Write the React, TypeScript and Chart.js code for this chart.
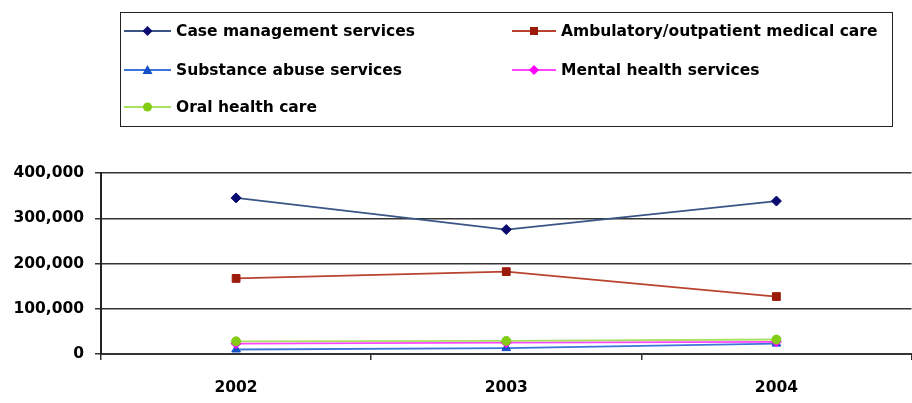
import React, { useEffect, useRef } from "react";
import { Chart, registerables } from "chart.js";

Chart.register(...registerables);

const categories = ["2002", "2003", "2004"];
const caseManagement = [345000, 275000, 338000];
const ambulatoryCare = [167000, 182000, 127000];
const substanceAbuse = [10000, 13000, 23000];
const mentalHealth = [23000, 25000, 27000];
const oralHealth = [28000, 29000, 32000];
const seriesNames = [
  "Case management services",
  "Ambulatory/outpatient medical care",
  "Substance abuse services",
  "Mental health services",
  "Oral health care",
];
const yMin = 0;
const yMax = 400000;
const yStep = 100000;

const FONT = "'DejaVu Sans', Verdana, sans-serif";

const seriesStyles = [
  { line: "#3a5585", marker: "#0a0a70", shape: "rectRot", radius: 5 },
  { line: "#b8432e", marker: "#9c1a0a", shape: "rect", radius: 5.5 },
  { line: "#3d74d8", marker: "#1450c8", shape: "triangle", radius: 5 },
  { line: "#ff44ff", marker: "#ff00ff", shape: "rectRot", radius: 5 },
  { line: "#a8e060", marker: "#84cc16", shape: "circle", radius: 4.5 },
];
const seriesData = [caseManagement, ambulatoryCare, substanceAbuse, mentalHealth, oralHealth];

function Marker({ shape, color, cx }: { shape: string; color: string; cx: number }) {
  const cy = 7;
  if (shape === "rectRot") return <polygon points={`${cx},${cy - 5} ${cx + 5},${cy} ${cx},${cy + 5} ${cx - 5},${cy}`} fill={color} />;
  if (shape === "rect") return <rect x={cx - 4} y={cy - 4} width={8} height={8} fill={color} />;
  if (shape === "triangle") return <polygon points={`${cx},${cy - 5} ${cx + 5},${cy + 4} ${cx - 5},${cy + 4}`} fill={color} />;
  return <circle cx={cx} cy={cy} r={4.5} fill={color} />;
}

export default function App() {
  const ref = useRef<HTMLCanvasElement | null>(null);
  useEffect(() => {
    if (!ref.current) return;
    const chart = new Chart(ref.current, {
      type: "line",
      data: {
        labels: categories,
        datasets: seriesNames.map((name, i) => ({
          label: name,
          data: seriesData[i],
          borderColor: seriesStyles[i].line,
          backgroundColor: seriesStyles[i].marker,
          pointBackgroundColor: seriesStyles[i].marker,
          pointBorderColor: seriesStyles[i].marker,
          pointStyle: seriesStyles[i].shape as any,
          pointRadius: seriesStyles[i].radius,
          pointBorderWidth: 1,
          borderWidth: 1.8,
          tension: 0,
          order: seriesNames.length - i,
        })),
      },
      options: {
        responsive: false,
        animation: false,
        devicePixelRatio: 1,
        layout: { padding: { top: 173, left: 0, right: 0, bottom: 0 } },
        plugins: { legend: { display: false }, tooltip: { enabled: false } },
        scales: {
          x: {
            type: "category",
            offset: true,
            grid: { offset: true, drawOnChartArea: false, drawTicks: true, tickLength: 6, color: "#333", lineWidth: 1.5 },
            border: { display: true, color: "#333", width: 2 },
            ticks: { color: "#000", font: { family: FONT, size: 15.5, weight: "bold" }, padding: 19, maxRotation: 0 },
            afterFit: (s: any) => { s.height = 49; },
          },
          y: {
            min: yMin,
            max: yMax,
            grid: { color: "#333", lineWidth: 1.5, drawTicks: true, tickLength: 6 },
            border: { display: true, color: "#222", width: 2 },
            ticks: {
              stepSize: yStep,
              color: "#000",
              padding: 11,
              font: { family: FONT, size: 15.5, weight: "bold" },
              callback: (v: any) => Number(v).toLocaleString("en-US"),
            },
            afterFit: (s: any) => { s.width = 101; },
          },
        },
      },
    });
    return () => chart.destroy();
  }, []);

  const legendPos = [
    { x: 124, y: 31, w: 47 },
    { x: 512, y: 31, w: 44 },
    { x: 124, y: 70, w: 47 },
    { x: 512, y: 70, w: 44 },
    { x: 124, y: 107, w: 47 },
  ];

  return (
    <div style={{ position: "fixed", left: 0, top: 0, width: 912, height: 403, background: "#fff", overflow: "hidden" }}>
      <canvas ref={ref} width={918} height={403} style={{ position: "absolute", left: 0, top: 0, width: 918, height: 403 }} />
      <div style={{ position: "absolute", left: 120, top: 12, width: 773, height: 115, boxSizing: "border-box", border: "1.5px solid #222" }} />
      {seriesNames.map((name, i) => (
        <div key={name} style={{ position: "absolute", left: legendPos[i].x, top: legendPos[i].y - 10, height: 20, display: "flex", alignItems: "center", whiteSpace: "nowrap" }}>
          <svg width={legendPos[i].w} height={14} style={{ display: "block" }}>
            <line x1={0} y1={7} x2={legendPos[i].w} y2={7} stroke={seriesStyles[i].line} strokeWidth={2} />
            <Marker shape={seriesStyles[i].shape} color={seriesStyles[i].marker} cx={legendPos[i].w / 2} />
          </svg>
          <span style={{ marginLeft: 5, fontFamily: FONT, fontWeight: "bold", fontSize: 15.5, color: "#000" }}>{name}</span>
        </div>
      ))}
    </div>
  );
}
